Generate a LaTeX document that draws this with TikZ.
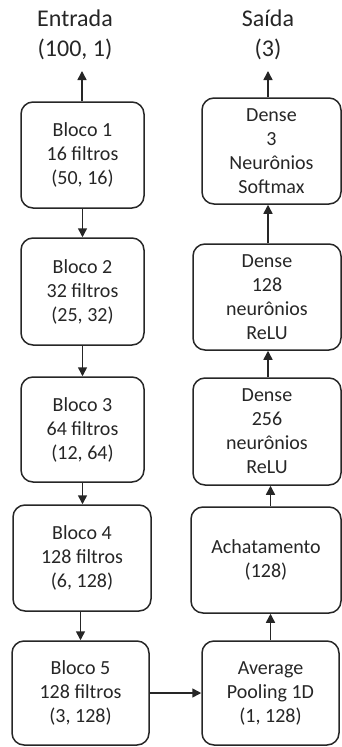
\documentclass[tikz,border=0pt]{standalone}
\usepackage{fontspec}
\setmainfont{Carlito}
\usetikzlibrary{arrows.meta}
\begin{document}
\begin{tikzpicture}[x=1pt,y=-1pt,
  blk/.style={draw=black!85, line width=1.5pt, rounded corners=12pt, inner sep=0pt, align=center,
    text=black!85, font=\fontsize{20}{24}\selectfont},
  ttl/.style={inner sep=0pt, align=center, text=black!85, font=\fontsize{24}{30}\selectfont},
  arr/.style={draw=black!85, line width=1.5pt, -{Triangle[length=9pt,width=9pt]}}]
\useasboundingbox (0,0) rectangle (342,747);
% left column
\node[blk, minimum width=123pt, minimum height=106pt] (b1) at (82.5,155) {Bloco 1\\16 filtros\\(50, 16)};
\node[blk, minimum width=123pt, minimum height=107pt] (b2) at (82.5,291.5) {Bloco 2\\32 filtros\\(25, 32)};
\node[blk, minimum width=123pt, minimum height=105pt] (b3) at (82.5,429.5) {Bloco 3\\64 filtros\\(12, 64)};
\node[blk, minimum width=138pt, minimum height=106pt] (b4) at (82,558) {Bloco 4\\128 filtros\\(6, 128)};
\node[blk, minimum width=137pt, minimum height=104pt] (b5) at (80.5,693) {Bloco 5\\128 filtros\\(3, 128)};
% right column
\node[blk, minimum width=139pt, minimum height=106pt] (d3) at (271.5,151) {Dense\\3\\Neurônios\\Softmax};
\node[blk, minimum width=148pt, minimum height=106pt] (d128) at (267,297) {Dense\\128\\neurônios\\ReLU};
\node[blk, minimum width=148pt, minimum height=107pt] (d256) at (267,431.5) {Dense\\256\\neurônios\\ReLU};
\node[blk, minimum width=150pt, minimum height=106pt] (ach) at (266,560) {Achatamento\\(128)};
\node[blk, minimum width=137pt, minimum height=104pt] (avg) at (270.5,693) {Average\\Pooling 1D\\(1, 128)};
% titles
\node[ttl] (ent) at (75,35) {Entrada\\(100, 1)};
\node[ttl] (sai) at (268,35) {Saída\\(3)};
\coordinate (entp) at (82,71);
\coordinate (saip) at (268,71);
% arrows
\draw[arr] (b1.north -| entp) -- (entp);
\draw[arr] (b1.south) -- (b1.south |- b2.north);
\draw[arr] (b2.south) -- (b2.south |- b3.north);
\draw[arr] (b3.south) -- (b3.south |- b4.north);
\draw[arr] (b4.south -| b5.north) -- (b5.north);
\draw[arr] (b5.east) -- (b5.east -| avg.west);
\draw[arr] (avg.north) -- (avg.north |- ach.south);
\draw[arr] (avg.north |- ach.north) -- (avg.north |- d256.south);
\draw[arr] (d256.north -| saip) -- (d128.south -| saip);
\draw[arr] (d128.north -| saip) -- (d3.south -| saip);
\draw[arr] (d3.north -| saip) -- (saip);
\end{tikzpicture}
\end{document}
